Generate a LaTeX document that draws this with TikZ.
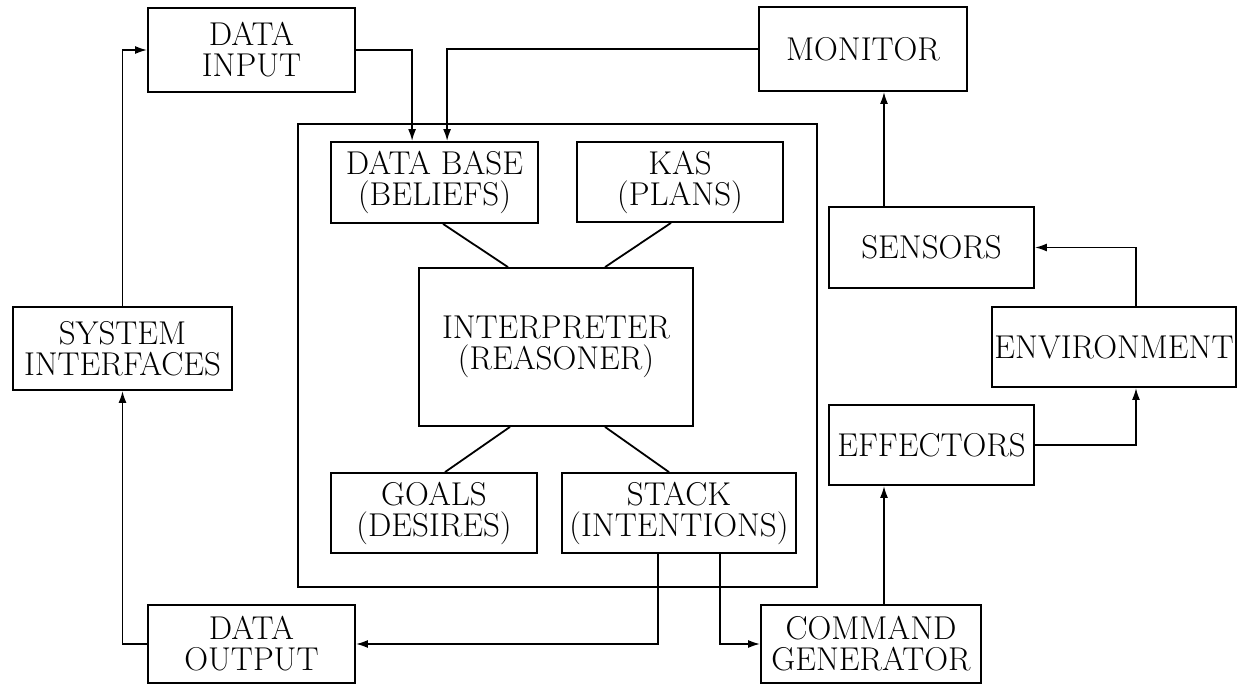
\documentclass[tikz,border=0pt]{standalone}
\usetikzlibrary{arrows.meta}
\begin{document}
\begin{tikzpicture}[x=0.5pt,y=-0.5pt,
  box/.style={draw,line width=0.9pt,inner sep=0pt,align=center,
    font=\fontsize{16.5pt}{15.5pt}\selectfont},
  link/.style={line width=0.9pt},
  arr/.style={line width=0.9pt,-{Latex[length=6pt,width=4pt]}}]
\useasboundingbox (0,0) rectangle (1238,685);
% main frame
\node[draw,line width=0.9pt,minimum width=259.5pt,minimum height=231.5pt,inner sep=0pt] (big) at (557.5,355.5) {};
% nodes
\node[box,minimum width=103.5pt,minimum height=42pt] (din) at (251.5,50) {DATA\\INPUT};
\node[box,minimum width=104pt,minimum height=42pt] (mon) at (863,49) {MONITOR};
\node[box,minimum width=103.5pt,minimum height=40.5pt] (db) at (434.5,182.5) {DATA BASE\\(BELIEFS)};
\node[box,minimum width=103pt,minimum height=40pt] (kas) at (680,182) {KAS\\(PLANS)};
\node[box,minimum width=137pt,minimum height=79pt] (interp) at (556,347) {INTERPRETER\\(REASONER)};
\node[box,minimum width=103pt,minimum height=40pt] (goals) at (434,513) {GOALS\\(DESIRES)};
\node[box,minimum width=117pt,minimum height=40pt] (stack) at (679,513) {STACK\\(INTENTIONS)};
\node[box,minimum width=109.5pt,minimum height=41.5pt] (si) at (122.5,348.5) {SYSTEM\\INTERFACES};
\node[box,minimum width=102.5pt,minimum height=40.5pt] (sens) at (931.5,247.5) {SENSORS};
\node[box,minimum width=122pt,minimum height=40pt] (env) at (1114,347) {ENVIRONMENT};
\node[box,minimum width=102.5pt,minimum height=40pt] (eff) at (931.5,445) {EFFECTORS};
\node[box,minimum width=103.5pt,minimum height=39pt] (dout) at (251.5,644) {DATA\\OUTPUT};
\node[box,minimum width=110pt,minimum height=39pt] (cg) at (871,644) {COMMAND\\GENERATOR};
% connectors
\draw[arr] (si.north) |- (din.west);
\draw[arr] (dout.west) -| (si.south);
\draw[arr] (din.east) -| ([xshift=41pt]db.north west);
\draw[arr] (mon.west) -| ([xshift=58.5pt]db.north west);
\draw[arr] ([xshift=-23.75pt]sens.north) -- ([xshift=-23.75pt]sens.north |- mon.south);
\draw[arr] ([xshift=11pt]env.north) |- (sens.east);
\draw[arr] (eff.east) -| ([xshift=11pt]env.south);
\draw[arr] ([xshift=6.5pt]cg.north) -- ([xshift=6.5pt]cg.north |- eff.south);
\draw[arr] ([xshift=-10.5pt]stack.south) |- (dout.east);
\draw[arr] ([xshift=20.5pt]stack.south) |- (cg.west);
\draw[link] ([xshift=4.25pt]db.south) -- ([xshift=-24pt]interp.north);
\draw[link] ([xshift=-4.5pt]kas.south) -- ([xshift=24.5pt]interp.north);
\draw[link] ([xshift=-23pt]interp.south) -- ([xshift=5.5pt]goals.north);
\draw[link] ([xshift=24.5pt]interp.south) -- ([xshift=-5pt]stack.north);
\end{tikzpicture}
\end{document}
